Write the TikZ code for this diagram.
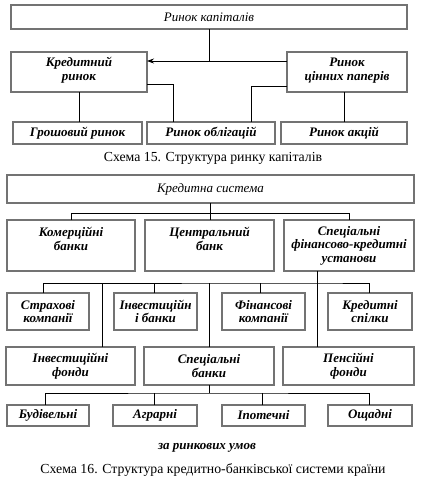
\documentclass[tikz,border=0pt]{standalone}
\usepackage{fontspec}
\setmainfont{Liberation Serif}
\usetikzlibrary{arrows.meta}
\tikzset{
  box/.style={draw=black!55, line width=1.7pt, rectangle, inner sep=0pt, outer sep=0pt},
  txt/.style={font=\bfseries\itshape\fontsize{13}{13.5}\selectfont, align=center, inner sep=0pt},
  conn/.style={draw=black, line width=0.8pt},
  captxt/.style={font=\fontsize{13.8}{14}\selectfont, inner sep=0pt}
}
\newcommand\bx[7]{%
  \node[box, minimum width={(#4-#2)*1pt}, minimum height={(#5-#3)*1pt}] (#1) at ({(#2+#4)/2},{-(#3+#5)/2}) {};
  \node[txt] (#1-t) at ([yshift=#6pt]#1.center) {#7};
}
\begin{document}
\begin{tikzpicture}[x=1pt,y=1pt]
\useasboundingbox (0,0) rectangle (427,-482);
% ---- Scheme 15
\bx{rk}{11}{5}{407}{29}{0}{\mdseries Ринок капіталів}
\bx{kr}{11}{52}{147}{92}{2}{Кредитний\\ринок}
\bx{rcp}{287}{52}{407}{92}{1.5}{Ринок\\цінних паперів}
\bx{gr}{13}{122}{142}{144}{0}{Грошовий ринок}
\bx{ro}{147}{122}{275}{144}{0}{Ринок облігацій}
\bx{ra}{281}{122}{407}{144}{0}{Ринок акцій}
\coordinate (a1) at ([yshift=-9pt]kr.north east);
\draw[conn] (rk.south) -- (rk.south |- a1);
\draw[conn,-{Stealth[length=7pt,width=5pt]}] (rcp.west |- a1) -- (a1);
\draw[conn] ([yshift=8pt]kr.south east) -| ([xshift=26pt]ro.north west);
\draw[conn] ([yshift=6pt]rcp.south west) -| ([xshift=-24pt]ro.north east);
\draw[conn] (kr.south) -- (kr.south |- gr.north);
\draw[conn] (ra.north |- rcp.south) -- (ra.north);
\node[captxt] (c1) at (213,-158) {Схема 15. Структура ринку капіталів};
% ---- Scheme 16
\bx{ks}{7}{175}{414}{203}{0}{\mdseries Кредитна система}
\bx{kb}{7}{220}{135}{271}{6.5}{Комерційні\\банки}
\bx{cb}{145}{220}{274}{271}{6.5}{Центральний\\банк}
\bx{sfk}{284}{220}{414}{271}{0}{Спеціальні\\фінансово-кредитні\\установи}
\bx{st}{7}{293}{89}{330}{0}{Страхові\\компанії}
\bx{ib}{114}{293}{197}{330}{0}{Інвестиційн\\і банки}
\bx{fk}{222}{293}{305}{330}{0}{Фінансові\\компанії}
\bx{kred}{328}{293}{412}{330}{0}{Кредитні\\спілки}
\bx{if}{6}{347}{135}{385}{0}{Інвестиційні\\фонди}
\bx{sb}{144}{347}{274}{385}{0}{Спеціальні\\банки}
\bx{pf}{283}{347}{414}{385}{0}{Пенсійні\\фонди}
\bx{bud}{7}{405}{89}{426}{0}{Будівельні}
\bx{agr}{113}{405}{197}{426}{0}{Аграрні}
\bx{ipo}{222}{405}{305}{426}{0}{Іпотечні}
\bx{osh}{328}{405}{412}{426}{0}{Ощадні}
% connectors level 1
\draw[conn] (ks.south) -- (ks.south |- cb.north);
\draw[conn] (kb.north) -- ++(0,7) -| (sfk.north);
% connectors level 2
\coordinate (s1) at ([xshift=33pt]sfk.south west);
\coordinate (h2) at ([yshift=-12pt]s1);
\draw[conn] (s1) -- (s1 |- pf.north);
\draw[conn] ([xshift=36pt]st.north west) |- (h2) -| ([xshift=41pt]kred.north west);
\draw[conn] ([xshift=40pt]ib.north west) -- ([xshift=40pt]ib.north west |- h2);
\draw[conn] ([xshift=38pt]fk.north west) -- ([xshift=38pt]fk.north west |- h2);
\draw[conn] ([xshift=96pt]if.north west) -- ([xshift=96pt]if.north west |- h2);
\draw[conn] (sb.north) -- (sb.north |- h2);
% connectors level 3
\coordinate (h3) at ([yshift=-8pt]sb.south);
\draw[conn] (sb.south) -- (h3);
\draw[conn] ([xshift=38pt]bud.north west) |- (h3) -| ([xshift=41pt]osh.north west);
\draw[conn] ([xshift=41pt]agr.north west) -- ([xshift=41pt]agr.north west |- h3);
\draw[conn] ([xshift=40pt]ipo.north west) -- ([xshift=40pt]ipo.north west |- h3);
\node[txt] (zru) at (207,-448) {за ринкових умов};
\node[captxt] (c2) at (213,-470) {Схема 16. Структура кредитно-банківської системи країни};
\end{tikzpicture}
\end{document}
